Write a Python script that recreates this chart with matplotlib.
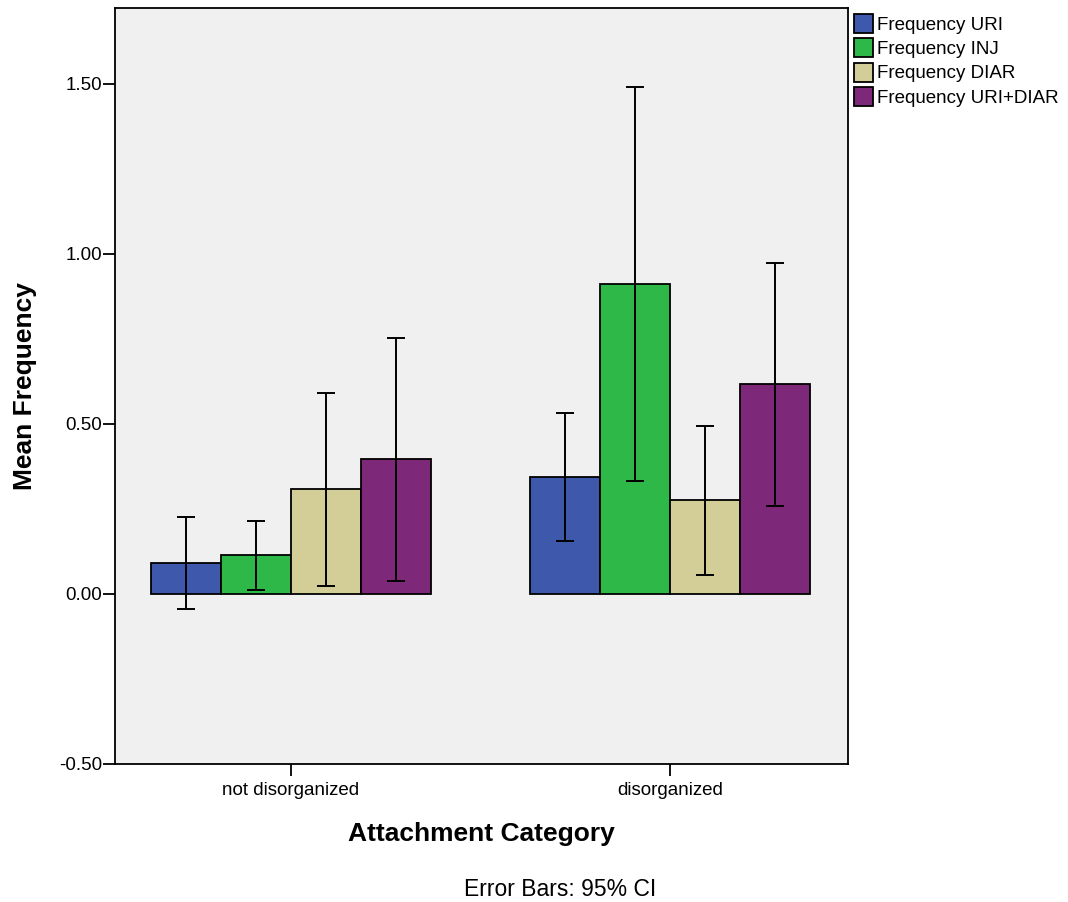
import numpy as np
import matplotlib.pyplot as plt

plt.rcParams['font.family'] = ['Liberation Sans', 'DejaVu Sans']

# data
categories = ["not disorganized", "disorganized"]
series = ["Frequency URI", "Frequency INJ", "Frequency DIAR", "Frequency URI+DIAR"]
means = [
    [0.091, 0.344],   # URI
    [0.115, 0.912],   # INJ
    [0.309, 0.276],   # DIAR
    [0.397, 0.618],   # URI+DIAR
]
ci_low = [
    [-0.044, 0.156],
    [0.012, 0.332],
    [0.024, 0.056],
    [0.038, 0.259],
]
ci_high = [
    [0.226, 0.532],
    [0.215, 1.491],
    [0.591, 0.494],
    [0.753, 0.974],
]
colors = ["#3E58AC", "#2EB848", "#D3CE98", "#7E287A"]

fig = plt.figure(figsize=(10.68, 9.02), dpi=100)
ax = fig.add_axes([115 / 1068, 1 - 764 / 902, (848 - 115) / 1068, (764 - 8) / 902])
ax.set_facecolor("#F0F0F0")

x = np.arange(len(categories))
w = 0.185
for i, name in enumerate(series):
    pos = x + (i - 1.5) * w
    m = np.array(means[i])
    lo = m - np.array(ci_low[i])
    hi = np.array(ci_high[i]) - m
    ax.bar(pos, m, width=w, color=colors[i], edgecolor="black", linewidth=1.3,
           label=name, zorder=2)
    ax.errorbar(pos, m, yerr=[lo, hi], fmt="none", ecolor="black",
                elinewidth=1.4, capsize=6.5, capthick=1.4, zorder=3)

ax.set_xlim(-0.464, 1.4697)
ax.set_ylim(-0.5, 1.7235)
ax.set_yticks([-0.5, 0.0, 0.5, 1.0, 1.5])
ax.set_yticklabels(["-0.50", "0.00", "0.50", "1.00", "1.50"])
ax.set_xticks(x)
ax.set_xticklabels(categories)
ax.tick_params(axis="both", direction="out", length=8.5, width=1.3,
               labelsize=13.5, pad=1)
ax.tick_params(axis="x", pad=4.5)
for s in ax.spines.values():
    s.set_linewidth(1.3)

ax.set_ylabel("Mean Frequency", fontsize=19, fontweight="bold")
ax.yaxis.set_label_coords(-0.1064, 0.5)
ax.set_xlabel("Attachment Category", fontsize=19, fontweight="bold")
ax.xaxis.set_label_coords(0.5, -0.0766)
fig.text(560 / 1068, 1 - 889 / 902, "Error Bars: 95% CI", fontsize=16.5,
         ha="center", va="center")

leg = ax.legend(loc="upper left", bbox_to_anchor=(1.0, 1.0), frameon=False,
                fontsize=13.5, handlelength=1.05, handleheight=1.2,
                handletextpad=0.2, labelspacing=0.24, borderaxespad=0.2,
                borderpad=0.1)

fig.savefig("out.png", dpi=100)
